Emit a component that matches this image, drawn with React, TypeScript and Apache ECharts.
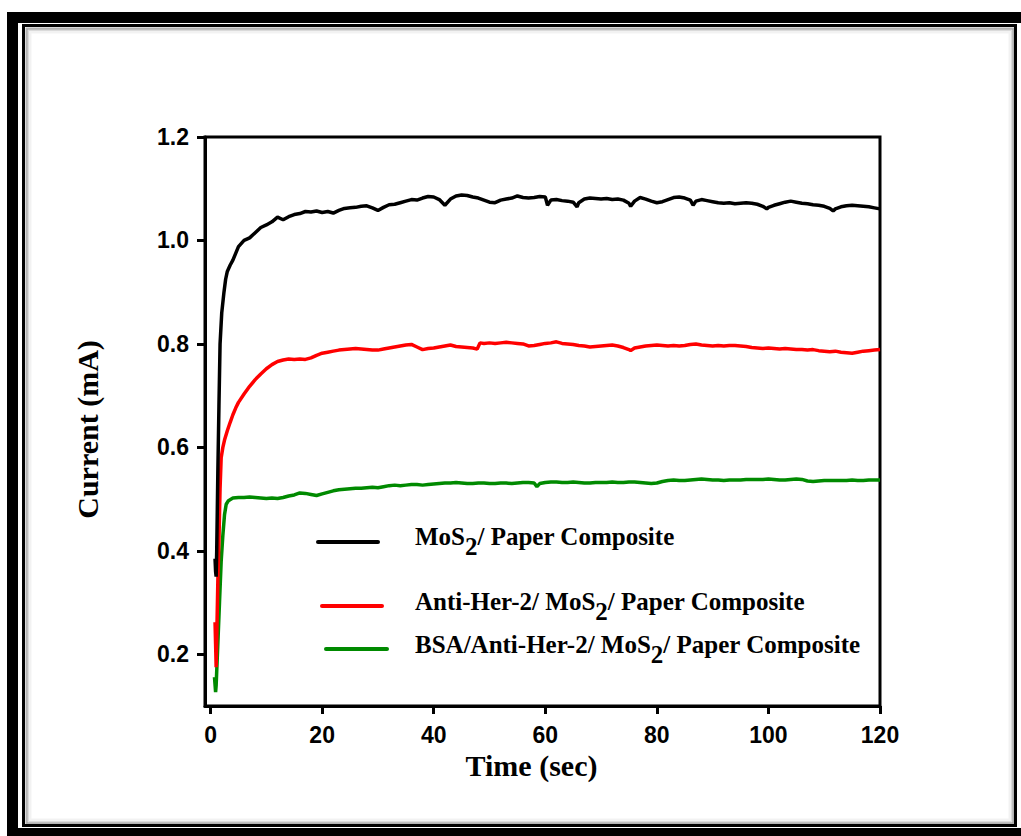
import React, { useEffect, useRef } from "react";
import * as echarts from "echarts";

const xTicks = [0, 20, 40, 60, 80, 100, 120];
const yTicks = [0.2, 0.4, 0.6, 0.8, 1.0, 1.2];

const legendNames = [
  "MoS2/ Paper Composite",
  "Anti-Her-2/ MoS2/ Paper Composite",
  "BSA/Anti-Her-2/ MoS2/ Paper Composite",
];
const seriesColors = ["#000000", "#ff0000", "#008a00"];

// MoS2 / Paper Composite [time (s), current (mA)]
const blackData: number[][] = [
  [0.8, 0.385], [0.9, 0.36], [1.0, 0.35], [1.1, 0.4], [1.3, 0.55], [1.5, 0.68], [1.7, 0.8], [2.0, 0.86],
  [2.4, 0.9], [2.7, 0.925], [3.0, 0.94], [3.5, 0.952], [4, 0.962], [4.5, 0.975], [5, 0.988], [6, 1.0],
  [7, 1.005], [8, 1.015], [9, 1.025], [10, 1.03], [11, 1.036], [12, 1.045], [13, 1.04], [14, 1.046],
  [15, 1.05], [16, 1.052], [17, 1.056], [18, 1.055], [19, 1.057], [20, 1.054], [21, 1.056], [22, 1.053],
  [23, 1.058], [24, 1.062], [25, 1.063], [26, 1.064], [27, 1.066], [28, 1.067], [29, 1.063], [30, 1.058],
  [31, 1.064], [32, 1.069], [33, 1.07], [34, 1.073], [35, 1.076], [36, 1.079], [37, 1.078], [38, 1.082],
  [39, 1.085], [40, 1.084], [41, 1.079], [42, 1.068], [43, 1.08], [44, 1.086], [45, 1.088], [46, 1.087],
  [47, 1.084], [48, 1.082], [49, 1.078], [50, 1.074], [51, 1.073], [52, 1.078], [53, 1.08], [54, 1.082],
  [55, 1.086], [56, 1.083], [57, 1.082], [58, 1.083], [59, 1.085], [60, 1.084], [60.4, 1.068], [61, 1.078],
  [62, 1.079], [63, 1.077], [64, 1.076], [65, 1.074], [65.7, 1.065], [66, 1.073], [67, 1.08], [68, 1.082],
  [69, 1.081], [70, 1.08], [71, 1.081], [72, 1.079], [73, 1.08], [74, 1.078], [75, 1.072], [75.3, 1.066],
  [76, 1.076], [77, 1.083], [78, 1.08], [79, 1.076], [80, 1.073], [81, 1.075], [82, 1.079], [83, 1.083],
  [84, 1.084], [85, 1.082], [86, 1.078], [86.5, 1.068], [87, 1.076], [88, 1.079], [89, 1.077], [90, 1.075],
  [91, 1.073], [92, 1.072], [93, 1.073], [94, 1.071], [95, 1.072], [96, 1.073], [97, 1.072], [98, 1.07],
  [99, 1.066], [99.7, 1.061], [100, 1.064], [101, 1.068], [102, 1.071], [103, 1.074], [104, 1.076], [105, 1.074],
  [106, 1.072], [107, 1.071], [108, 1.069], [109, 1.068], [110, 1.066], [111, 1.062], [111.6, 1.057], [112, 1.061],
  [113, 1.065], [114, 1.067], [115, 1.068], [116, 1.067], [117, 1.066], [118, 1.065], [119, 1.063], [120, 1.061],
];

// Anti-Her-2 / MoS2 / Paper Composite
const redData: number[][] = [
  [0.8, 0.262], [0.9, 0.22], [1.0, 0.175], [1.1, 0.23], [1.3, 0.34], [1.5, 0.42], [1.7, 0.52], [1.9, 0.58],
  [2.2, 0.6], [2.5, 0.614], [3, 0.632], [3.5, 0.648], [4, 0.663], [4.5, 0.676], [5, 0.687], [6, 0.703],
  [7, 0.718], [8, 0.731], [9, 0.742], [10, 0.752], [11, 0.76], [12, 0.766], [13, 0.769], [14, 0.771],
  [15, 0.77], [16, 0.771], [17, 0.77], [18, 0.773], [19, 0.778], [20, 0.782], [21, 0.784], [22, 0.786],
  [23, 0.788], [24, 0.789], [25, 0.79], [26, 0.791], [27, 0.79], [28, 0.789], [29, 0.788], [30, 0.788],
  [31, 0.79], [32, 0.792], [33, 0.794], [34, 0.796], [35, 0.798], [36, 0.799], [37, 0.794], [38, 0.789],
  [39, 0.791], [40, 0.792], [41, 0.794], [42, 0.796], [43, 0.798], [44, 0.795], [45, 0.794], [46, 0.793],
  [47, 0.792], [47.8, 0.79], [48.3, 0.802], [49, 0.801], [50, 0.802], [51, 0.801], [52, 0.802], [53, 0.803],
  [54, 0.802], [55, 0.801], [56, 0.8], [57, 0.796], [58, 0.797], [59, 0.799], [60, 0.801], [61, 0.802],
  [62, 0.804], [63, 0.801], [64, 0.8], [65, 0.799], [66, 0.797], [67, 0.796], [68, 0.794], [69, 0.795],
  [70, 0.796], [71, 0.797], [72, 0.798], [73, 0.796], [74, 0.793], [75, 0.789], [75.3, 0.787], [76, 0.792],
  [77, 0.794], [78, 0.796], [79, 0.797], [80, 0.798], [81, 0.797], [82, 0.796], [83, 0.797], [84, 0.796],
  [85, 0.797], [86, 0.799], [87, 0.8], [88, 0.798], [89, 0.797], [90, 0.796], [91, 0.797], [92, 0.796],
  [93, 0.797], [94, 0.797], [95, 0.796], [96, 0.795], [97, 0.793], [98, 0.792], [99, 0.791], [100, 0.792],
  [101, 0.791], [102, 0.79], [103, 0.791], [104, 0.79], [105, 0.789], [106, 0.789], [107, 0.788], [108, 0.789],
  [109, 0.787], [110, 0.786], [111, 0.785], [112, 0.786], [113, 0.784], [114, 0.783], [115, 0.782], [116, 0.784],
  [117, 0.786], [118, 0.787], [119, 0.788], [120, 0.789],
];

// BSA / Anti-Her-2 / MoS2 / Paper Composite
const greenData: number[][] = [
  [0.7, 0.156], [0.9, 0.127], [1.0, 0.14], [1.3, 0.22], [1.6, 0.3], [1.9, 0.38], [2.2, 0.43], [2.5, 0.47],
  [2.8, 0.49], [3.2, 0.497], [4, 0.502], [5, 0.503], [6, 0.503], [7, 0.504], [8, 0.503], [9, 0.502],
  [10, 0.501], [11, 0.502], [12, 0.501], [13, 0.503], [14, 0.506], [15, 0.508], [16, 0.512], [17, 0.511],
  [18, 0.509], [19, 0.507], [20, 0.51], [21, 0.513], [22, 0.516], [23, 0.518], [24, 0.519], [25, 0.52],
  [26, 0.521], [27, 0.521], [28, 0.522], [29, 0.523], [30, 0.522], [31, 0.524], [32, 0.526], [33, 0.527],
  [34, 0.526], [35, 0.527], [36, 0.528], [37, 0.528], [38, 0.527], [39, 0.528], [40, 0.529], [41, 0.53],
  [42, 0.531], [43, 0.531], [44, 0.532], [45, 0.531], [46, 0.53], [47, 0.53], [48, 0.531], [49, 0.531],
  [50, 0.53], [51, 0.53], [52, 0.531], [53, 0.531], [54, 0.53], [55, 0.531], [56, 0.532], [57, 0.532],
  [58, 0.531], [58.5, 0.524], [59, 0.53], [60, 0.532], [61, 0.533], [62, 0.533], [63, 0.532], [64, 0.532],
  [65, 0.533], [66, 0.532], [67, 0.531], [68, 0.531], [69, 0.532], [70, 0.532], [71, 0.532], [72, 0.533],
  [73, 0.532], [74, 0.532], [75, 0.533], [76, 0.533], [77, 0.532], [78, 0.531], [79, 0.53], [80, 0.531],
  [81, 0.534], [82, 0.536], [83, 0.537], [84, 0.536], [85, 0.536], [86, 0.537], [87, 0.538], [88, 0.539],
  [89, 0.538], [90, 0.537], [91, 0.537], [92, 0.536], [93, 0.537], [94, 0.537], [95, 0.537], [96, 0.538],
  [97, 0.538], [98, 0.538], [99, 0.538], [100, 0.539], [101, 0.538], [102, 0.537], [103, 0.537], [104, 0.538],
  [105, 0.539], [106, 0.538], [107, 0.535], [108, 0.534], [109, 0.535], [110, 0.536], [111, 0.536], [112, 0.536],
  [113, 0.536], [114, 0.536], [115, 0.537], [116, 0.536], [117, 0.536], [118, 0.537], [119, 0.537], [120, 0.537],
];

const SERIF = "'Liberation Serif', 'Times New Roman', serif";
const SANS = "'Liberation Sans', Arial, sans-serif";

function legendRich(name: string) {
  // turn "MoS2" into MoS{sub|2}
  return name.replace(/MoS2/g, "MoS{sub|2}").replace(/(^|\})([^{}]+)(?=\{|$)/g, (m, p1, p2) => `${p1}{n|${p2}}`);
}

export default function App() {
  const ref = useRef<HTMLDivElement>(null);
  useEffect(() => {
    document.body.style.margin = "0";
    const chart = echarts.init(ref.current!, null, { renderer: "svg" });
    const legendLines = [
      { x1: 318, x2: 378, y: 542, ty: 524 },
      { x1: 322, x2: 382, y: 606, ty: 589 },
      { x1: 326, x2: 387, y: 649, ty: 632 },
    ];
    const graphics: any[] = [
      // outer thick frame
      { type: "rect", silent: true, shape: { x: 12.5, y: 17.5, width: 1020, height: 816 }, style: { fill: "none", stroke: "#000", lineWidth: 11 } },
      // inner shadow
      { type: "rect", silent: true, shape: { x: 30, y: 32, width: 980, height: 788 }, style: { fill: "none", stroke: "rgba(0,0,0,0.05)", lineWidth: 3 } },
      { type: "rect", silent: true, shape: { x: 28, y: 30, width: 984, height: 792 }, style: { fill: "none", stroke: "rgba(0,0,0,0.12)", lineWidth: 2 } },
      { type: "rect", silent: true, shape: { x: 26.5, y: 28.5, width: 987, height: 795 }, style: { fill: "none", stroke: "rgba(0,0,0,0.3)", lineWidth: 2 } },
      // inner thin frame
      { type: "rect", silent: true, shape: { x: 23.5, y: 25.5, width: 992, height: 800 }, style: { fill: "none", stroke: "#000", lineWidth: 3 } },
    ];
    legendLines.forEach((l, i) => {
      graphics.push({ type: "line", silent: true, shape: { x1: l.x1, y1: l.y, x2: l.x2, y2: l.y }, style: { stroke: seriesColors[i], lineWidth: 4, lineCap: "round" } });
      graphics.push({
        type: "text",
        silent: true,
        x: 415,
        y: l.ty,
        style: {
          text: legendRich(legendNames[i]),
          rich: {
            n: { fontFamily: SERIF, fontWeight: "bold", fontSize: 25, lineHeight: 30, verticalAlign: "top", fill: "#000" },
            sub: { fontFamily: SERIF, fontWeight: "bold", fontSize: 25, lineHeight: 30, verticalAlign: "top", padding: [10, 0, 0, 0], fill: "#000" },
          },
        },
      });
    });

    const option: any = {
      animation: false,
      backgroundColor: "#fff",
      grid: { left: 205, top: 137, width: 675, height: 569, show: true, borderColor: "#000", borderWidth: 3, backgroundColor: "transparent" },
      xAxis: {
        type: "value",
        min: -1,
        max: 120,
        name: "Time (sec)",
        nameLocation: "middle",
        nameGap: 44,
        nameTextStyle: { fontFamily: SERIF, fontWeight: "bold", fontSize: 30, color: "#000", padding: [0, 22, 0, 0] },
        axisLine: { show: true, onZero: false, lineStyle: { color: "#000", width: 3 } },
        axisTick: { show: true, inside: false, length: 8, lineStyle: { color: "#000", width: 3 }, customValues: xTicks },
        axisLabel: { fontFamily: SANS, fontWeight: "bold", fontSize: 23, color: "#000", margin: 17, customValues: xTicks },
        splitLine: { show: false },
      },
      yAxis: {
        type: "value",
        min: 0.1,
        max: 1.2,
        name: "Current (mA)",
        nameLocation: "middle",
        nameGap: 103,
        nameRotate: 90,
        nameTextStyle: { fontFamily: SERIF, fontWeight: "bold", fontSize: 30, color: "#000", padding: [0, 16, 0, 0] },
        axisLine: { show: true, onZero: false, lineStyle: { color: "#000", width: 3 } },
        axisTick: { show: true, inside: false, length: 8, lineStyle: { color: "#000", width: 3 }, customValues: yTicks },
        axisLabel: { fontFamily: SANS, fontWeight: "bold", fontSize: 23, color: "#000", margin: 16, customValues: yTicks, formatter: (v: number) => v.toFixed(1) },
        splitLine: { show: false },
      },
      series: [blackData, redData, greenData].map((d, i) => ({
        type: "line",
        name: legendNames[i],
        data: d,
        showSymbol: false,
        symbol: "none",
        smooth: false,
        lineStyle: { color: seriesColors[i], width: 3.5 },
        z: 3 - i,
      })),
      graphic: graphics,
    };
    chart.setOption(option);
    return () => chart.dispose();
  }, []);
  return <div ref={ref} style={{ width: 1021, height: 836 }} />;
}
